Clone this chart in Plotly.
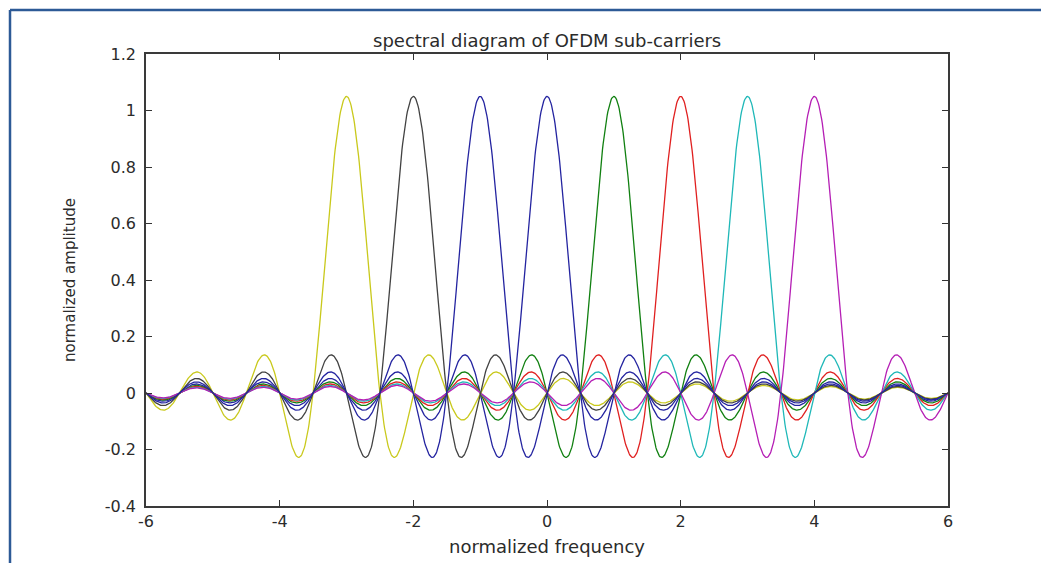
import numpy as np
import plotly.graph_objects as go

# ---- data ----
carrier_centers = [0, 1, 2, 3, 4, -3, -2, -1]          # normalized sub-carrier centre frequencies (draw order)
carrier_colors = ["#2424a0", "#118011", "#e02020", "#1fb8b8",
                  "#b51fb5", "#c9c91c", "#424242", "#2424a0"]
peak_amplitude = 1.05                                   # peak of each sub-carrier spectrum
null_spacing = 0.5                                      # distance between spectral nulls
freq_start, freq_stop, freq_points = -6.0, 6.0, 1201    # frequency axis sampling

x_tickvals = [-6, -4, -2, 0, 2, 4, 6]
x_ticktext = ["-6", "-4", "-2", "0", "2", "4", "6"]
y_tickvals = [-0.4, -0.2, 0, 0.2, 0.4, 0.6, 0.8, 1.0, 1.2]
y_ticktext = ["-0.4", "-0.2", "0", "0.2", "0.4", "0.6", "0.8", "1", "1.2"]

title_text = "spectral diagram of OFDM sub-carriers"
x_title = "normalized frequency"
y_title = "normalized amplitude"

# ---- figure ----
freq = np.linspace(freq_start, freq_stop, freq_points)
fig = go.Figure()
for c, col in zip(carrier_centers, carrier_colors):
    fig.add_trace(go.Scatter(x=freq, y=peak_amplitude * np.sinc((freq - c) / null_spacing),
                             mode="lines", line=dict(color=col, width=1.3), showlegend=False,
                             hoverinfo="skip"))

W, H = 1041, 563
L, R, T, B = 146, 93, 54, 57
pw, ph = W - L - R, H - T - B
font_family = "DejaVu Sans"
txt_col = "#2b2b2b"

axis_common = dict(ticks="inside", ticklen=6, tickwidth=1.3, tickcolor="#333333",
                   showline=True, linecolor="#3a3a3a", linewidth=1.6, mirror="ticks",
                   showgrid=False, zeroline=False,
                   tickfont=dict(family=font_family, size=16, color=txt_col))

fig.update_layout(
    width=W, height=H, autosize=False,
    margin=dict(l=L, r=R, t=T, b=B),
    paper_bgcolor="white", plot_bgcolor="white",
    xaxis=dict(range=[-6, 6], tickmode="array", tickvals=x_tickvals, ticktext=x_ticktext,
               ticklabelstandoff=0, **axis_common),
    yaxis=dict(range=[-0.4, 1.2], tickmode="array", tickvals=y_tickvals, ticktext=y_ticktext,
               ticklabelstandoff=5, **axis_common),
    annotations=[
        dict(text=title_text, xref="paper", yref="paper", x=0.5,
             y=(H - B - 40) / ph, xanchor="center", yanchor="middle", showarrow=False,
             font=dict(family=font_family, size=18, color=txt_col)),
        dict(text=x_title, xref="paper", yref="paper", x=(547 - L) / pw,
             y=(H - B - 546) / ph, xanchor="center", yanchor="middle", showarrow=False,
             font=dict(family=font_family, size=18, color=txt_col)),
        dict(text=y_title, xref="paper", yref="paper", x=(70 - L) / pw,
             y=0.5, xanchor="center", yanchor="middle", showarrow=False, textangle=-90,
             font=dict(family=font_family, size=15, color=txt_col)),
    ],
    shapes=[
        dict(type="line", xref="paper", yref="paper",
             x0=(10 - L) / pw, x1=(10 - L) / pw, y0=(H - B - H - 5) / ph, y1=(H - B - 10) / ph,
             line=dict(color="#2d5a96", width=2.5)),
        dict(type="line", xref="paper", yref="paper",
             x0=(10 - L) / pw, x1=(W + 5 - L) / pw, y0=(H - B - 10) / ph, y1=(H - B - 10) / ph,
             line=dict(color="#2d5a96", width=2.5)),
    ],
)

fig.write_html("out.html")
